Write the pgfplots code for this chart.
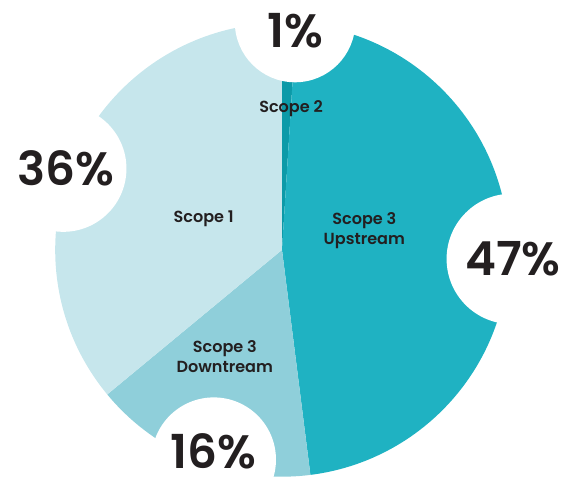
\documentclass[border=0pt]{standalone}
\usepackage{pgfplots}
\pgfplotsset{compat=1.18}
\usepackage{fontspec}
\setmainfont{Poppins}[BoldFont={Poppins SemiBold}]
\definecolor{cOne}{HTML}{C6E6EC}
\definecolor{cDown}{HTML}{8FCFDA}
\definecolor{cUp}{HTML}{1FB2C2}
\definecolor{cTwo}{HTML}{0C9AA8}
\definecolor{ink}{HTML}{231F20}
% shares (percent)
\def\vTwo{1}
\def\vUp{47}
\def\vDown{16}
\def\vOne{36}
\def\cx{283}\def\cy{230}\def\R{226}
\pgfmathsetmacro\aA{90}
\pgfmathsetmacro\aB{\aA-3.6*\vTwo}
\pgfmathsetmacro\aC{\aB-3.6*\vUp}
\pgfmathsetmacro\aD{\aC-3.6*\vDown}
\pgfmathsetmacro\aE{\aD-3.6*\vOne}
\newcommand\slice[3]{%
  \fill[#3] (axis cs:\cx,\cy) -- (axis cs:{\cx+\R*cos(#1)},{\cy+\R*sin(#1)})
    arc[start angle=#1, end angle=#2, radius=\R] -- cycle;}
\begin{document}
\begin{tikzpicture}
\begin{axis}[
  scale only axis, width=424.5pt, height=359.25pt,
  xmin=0, xmax=566, ymin=0, ymax=479,
  hide axis, clip=true,
]
\slice{\aA}{\aB}{cTwo}
\slice{\aB}{\aC}{cUp}
\slice{\aC}{\aD}{cDown}
\slice{\aD}{\aE}{cOne}
% white cut-out circles
\fill[white] (axis cs:296,457) circle[radius=60];
\fill[white] (axis cs:65,311) circle[radius=63];
\fill[white] (axis cs:512,221) circle[radius=65];
\fill[white] (axis cs:215,21) circle[radius=62];
% percentage labels
\node[ink,inner sep=0pt,font=\fontsize{35}{38}\selectfont\bfseries] at (axis cs:296,448) {1\%};
\node[ink,inner sep=0pt,font=\fontsize{35}{38}\selectfont\bfseries] at (axis cs:68,311) {36\%};
\node[ink,inner sep=0pt,font=\fontsize{35}{38}\selectfont\bfseries] at (axis cs:513,221) {47\%};
\node[ink,inner sep=0pt,font=\fontsize{35}{38}\selectfont\bfseries] at (axis cs:215,29) {16\%};
% slice labels
\node[ink,font=\fontsize{12}{15}\selectfont\bfseries] at (axis cs:292,371) {Scope 2};
\node[ink,font=\fontsize{12}{15}\selectfont\bfseries] at (axis cs:205,261) {Scope 1};
\node[ink,font=\fontsize{12}{15}\selectfont\bfseries,align=center] at (axis cs:365,249) {Scope 3\\Upstream};
\node[ink,font=\fontsize{12}{15}\selectfont\bfseries,align=center] at (axis cs:226,124) {Scope 3\\Downtream};
\end{axis}
\end{tikzpicture}
\end{document}
